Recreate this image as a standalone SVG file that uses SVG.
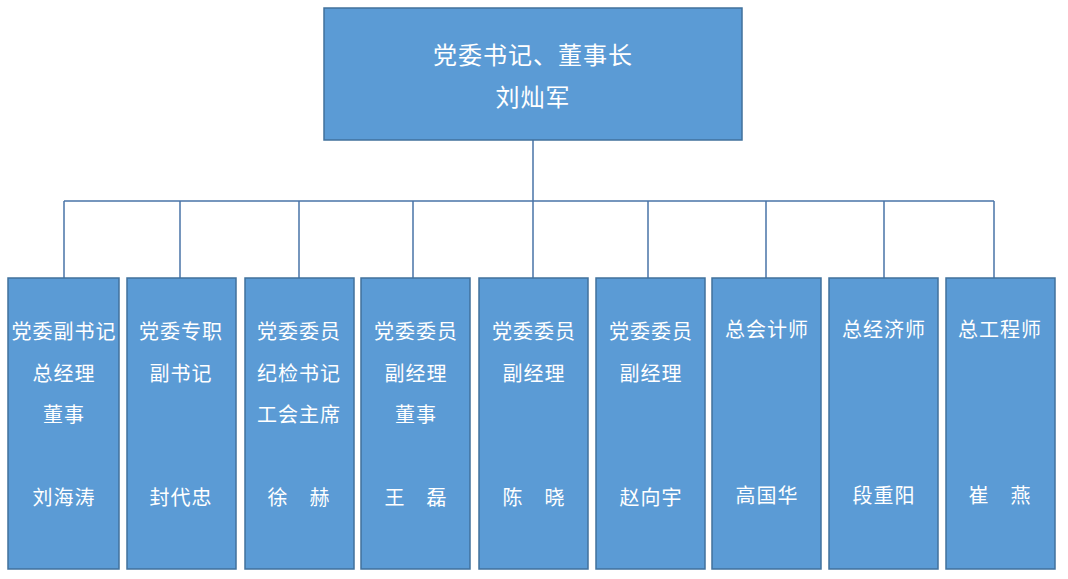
<svg xmlns="http://www.w3.org/2000/svg" width="1068" height="579" viewBox="0 0 1068 579">
<style>
.b{fill:#5B9BD5;stroke:#41719C;stroke-width:1.5}
.t{fill:#fff;font-family:"Noto Sans CJK SC",sans-serif;font-size:20px;text-anchor:middle;letter-spacing:1px}
.tt{font-size:24px}
.c{stroke:#4A74A8;stroke-width:1.5;fill:none}
</style>
<rect width="1068" height="579" fill="#fff"/>
<g id="connectors">
<path class="c" d="M533 140V201M64 201H994M64 201V278M180 201V278M299 201V278M413 201V278M533 201V278M648 201V278M766 201V278M884 201V278M994 201V278"/>
</g>
<g id="top"><rect class="b" x="324" y="8" width="418" height="132"/>
<text class="t tt" x="533" y="64">党委书记、董事长</text><text class="t tt" x="533" y="106">刘灿军</text></g>
<g id="n1"><rect class="b" x="8" y="278" width="111" height="291"/><text class="t" x="64" y="339">党委副书记</text><text class="t" x="64" y="381">总经理</text><text class="t" x="64" y="422">董事</text><text class="t" x="64" y="505">刘海涛</text></g>
<g id="n2"><rect class="b" x="127" y="278" width="109" height="291"/><text class="t" x="181" y="339">党委专职</text><text class="t" x="181" y="381">副书记</text><text class="t" x="181" y="505">封代忠</text></g>
<g id="n3"><rect class="b" x="245" y="278" width="109" height="291"/><text class="t" x="299" y="339">党委委员</text><text class="t" x="299" y="381">纪检书记</text><text class="t" x="299" y="422">工会主席</text><text class="t" x="299" y="505">徐　赫</text></g>
<g id="n4"><rect class="b" x="361" y="278" width="109" height="291"/><text class="t" x="416" y="339">党委委员</text><text class="t" x="416" y="381">副经理</text><text class="t" x="416" y="422">董事</text><text class="t" x="416" y="505">王　磊</text></g>
<g id="n5"><rect class="b" x="479" y="278" width="109" height="291"/><text class="t" x="534" y="339">党委委员</text><text class="t" x="534" y="381">副经理</text><text class="t" x="534" y="505">陈　晓</text></g>
<g id="n6"><rect class="b" x="596" y="278" width="109" height="291"/><text class="t" x="651" y="339">党委委员</text><text class="t" x="651" y="381">副经理</text><text class="t" x="651" y="505">赵向宇</text></g>
<g id="n7"><rect class="b" x="712" y="278" width="109" height="291"/><text class="t" x="767" y="337">总会计师</text><text class="t" x="767" y="503">高国华</text></g>
<g id="n8"><rect class="b" x="829" y="278" width="109" height="291"/><text class="t" x="884" y="337">总经济师</text><text class="t" x="884" y="503">段重阳</text></g>
<g id="n9"><rect class="b" x="946" y="278" width="109" height="291"/><text class="t" x="1000" y="337">总工程师</text><text class="t" x="1000" y="503">崔　燕</text></g>
</svg>
